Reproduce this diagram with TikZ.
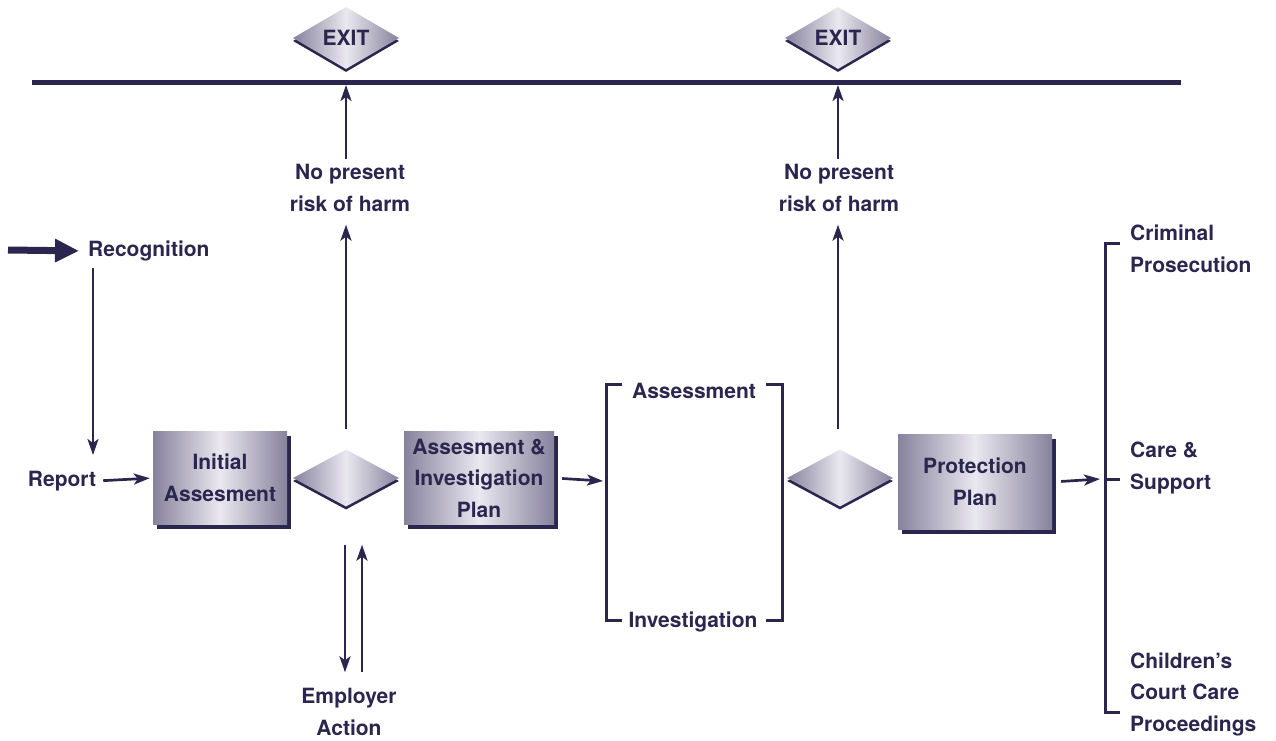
\documentclass[tikz,border=0pt]{standalone}
\usepackage{fontspec}
\setmainfont{TeX Gyre Heros}
\usetikzlibrary{shapes.geometric,arrows.meta,shadows}
\definecolor{navy}{RGB}{43,38,78}
\definecolor{edgegray}{RGB}{135,130,156}
\definecolor{midgray}{RGB}{234,232,240}
\begin{document}
\begin{tikzpicture}[x=1pt,y=-1pt,
  every node/.style={font=\fontsize{21}{31.5}\selectfont\bfseries, text=navy, align=center, inner sep=0pt},
  metal/.style={draw=none, left color=edgegray, right color=edgegray, middle color=midgray},
  procbox/.style={metal, rectangle, minimum width=134pt, minimum height=93pt,
     drop shadow={shadow xshift=4pt, shadow yshift=-4pt, fill=navy, opacity=1}},
  dia/.style={metal, diamond, minimum width=106pt, minimum height=57pt,
     drop shadow={shadow xshift=0pt, shadow yshift=-3pt, fill=navy, opacity=1}},
  arr/.style={draw=navy, line width=2.7pt, -{Stealth[length=16pt, width=11pt, inset=4pt]}},
  bigarr/.style={draw=navy, line width=7pt, -{Triangle[length=24pt, width=22pt]}},
  brk/.style={draw=navy, line width=3pt},
  outcome/.style={align=left, anchor=west}
]
\useasboundingbox (0,0) rectangle (1276,740);

% main horizontal line
\coordinate (hl1) at (32,82);
\coordinate (hl2) at (1181,82);
\draw[navy, line width=5pt] (hl1) -- (hl2);

% exit diamonds
\node[dia] (exitL) at (346,38) {EXIT};
\node[dia] (exitR) at (838,38) {EXIT};

% left part
\coordinate (recst) at (8,250);
\node[anchor=west] (rec) at (88,251) {Recognition};
\node (rep) at (62,481) {Report};
\coordinate (recdn) at (93,455);
\node[procbox] (init) at (220,478) {Initial\\Assesment};
\node[dia] (dmL) at (346,478) {};
\node[procbox, minimum width=150pt] (aip) at (479,478) {Assesment \&\\Investigation\\Plan};
\node (npL) at (350,188) {No present\\risk of harm};
\node (emp) at (349,712) {Employer\\Action};

% brackets (assessment / investigation)
\draw[brk] (622,384) -- (606,384) -- (606,620) -- (622,620);
\draw[brk] (766,384) -- (782,384) -- (782,620) -- (766,620);
\node (asm) at (694,391) {Assessment};
\node (inv) at (693,622) {Investigation};
\coordinate (brL) at (603,481);

% right part
\node[dia] (dmR) at (840,478) {};
\node (npR) at (839,188) {No present\\risk of harm};
\node[procbox, minimum width=154pt, minimum height=95pt] (pp) at (975,482) {Protection\\Plan};
\coordinate (brR) at (1100,479);

% outcome bracket
\draw[brk] (1120,243) -- (1105,243) -- (1105,712) -- (1120,712);
\draw[brk] (1105,479) -- (1120,479);
\node[outcome] (crim) at (1130,249) {Criminal\\Prosecution};
\node[outcome] (care) at (1130,468) {Care \&\\Support};
\node[outcome] (court) at (1130,694) {Children’s\\Court Care\\Proceedings};

% connectors
\draw[bigarr] (recst) -- (rec.west) [shorten >=9pt];
\draw[arr] ([yshift=-7pt]rec.south west -| recdn) -- (recdn);
\draw[arr, shorten <=7pt, shorten >=3pt] (rep.east) -- (init.west);
\draw[arr] ([yshift=20pt]dmL.north) -- ([yshift=-13pt]dmL.north |- npL.south);
\draw[arr, shorten <=5pt, shorten >=3pt] (dmL.north |- npL.north) -- (dmL.north |- hl1);
\draw[arr] ([xshift=-1pt,yshift=-38pt]dmL.south) -- ([xshift=-1pt,yshift=16pt]dmL.south |- emp.north);
\draw[arr] ([xshift=16pt,yshift=16pt]dmL.south |- emp.north) -- ([xshift=16pt,yshift=-38pt]dmL.south);
\draw[arr, shorten <=8pt] (aip.east) -- (brL);
\draw[arr] ([xshift=-2pt,yshift=20pt]dmR.north) -- ([xshift=-2pt,yshift=-13pt]dmR.north |- npR.south);
\draw[arr, shorten <=5pt, shorten >=3pt] ([xshift=-2pt]dmR.north |- npR.north) -- ([xshift=-2pt]dmR.north |- hl1);
\draw[arr, shorten <=9pt] (pp.east) -- (brR);
\end{tikzpicture}
\end{document}
